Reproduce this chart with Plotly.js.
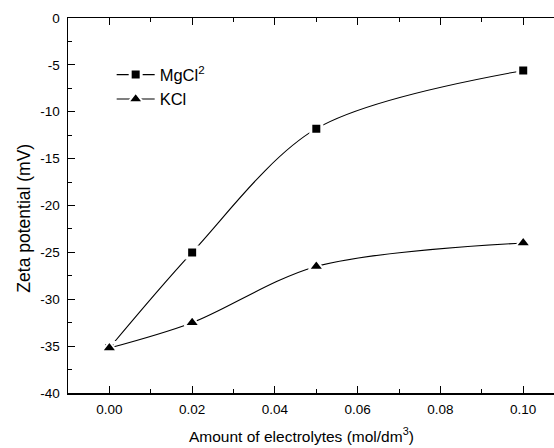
<!DOCTYPE html>
<html>
<head>
<meta charset="utf-8">
<script src="https://cdn.plot.ly/plotly-3.0.1.min.js"></script>
<style>
html, body { margin: 0; padding: 0; overflow: hidden; background: #fff; }
#chart { width: 570px; height: 448px; }
</style>
</head>
<body>
<div id="chart"></div>
<script>
// Data
const concentration = [0.00, 0.02, 0.05, 0.10];
const mgcl2 = [-35.2, -25.0, -11.8, -5.6];
const kcl = [-35.2, -32.5, -26.5, -24.0];
const seriesNames = ['MgCl<sup>2</sup>', 'KCl'];
const xTickVals = [0, 0.02, 0.04, 0.06, 0.08, 0.10];
const yTickVals = [0, -5, -10, -15, -20, -25, -30, -35, -40];
const yTickText = ['0', '-5', '-10', '-15', '-20', '-25', '-30', '-35', '-40'];
const xTitle = 'Amount of electrolytes (mol/dm<sup>3</sup>)';
const yTitle = 'Zeta potential (mV)';

const font = 'Liberation Sans, Arial, sans-serif';

const traces = [
  {
    x: concentration, y: mgcl2, name: seriesNames[0],
    type: 'scatter', mode: 'lines+markers',
    line: { color: '#000', width: 1.1, shape: 'spline', smoothing: 0.9 },
    marker: { symbol: 'square', size: 11, color: '#000', line: { color: '#fff', width: 3 } }
  },
  {
    x: concentration, y: kcl, name: seriesNames[1],
    type: 'scatter', mode: 'lines+markers',
    line: { color: '#000', width: 1.1, shape: 'spline', smoothing: 0.9 },
    marker: { symbol: 'triangle-up', size: 13, color: '#000', line: { color: '#fff', width: 2 } }
  }
];

const layout = {
  width: 570, height: 448,
  margin: { l: 68, r: 0, t: 18, b: 55 },
  paper_bgcolor: '#fff', plot_bgcolor: '#fff',
  font: { family: font, size: 13.5, color: '#000' },
  showlegend: true,
  legend: {
    x: 0.087, y: 0.895, xanchor: 'left', yanchor: 'top',
    bgcolor: 'rgba(0,0,0,0)', borderwidth: 0,
    font: { family: font, size: 16.5, color: '#000' },
    itemwidth: 38,
    tracegroupgap: 0
  },
  xaxis: {
    range: [-0.01, 0.1113],
    tickvals: xTickVals,
    tickformat: '.2f',
    ticks: 'inside', ticklen: 7, tickwidth: 1, tickcolor: '#000',
    minor: { dtick: 0.01, tick0: 0, ticks: 'inside', ticklen: 4, tickcolor: '#000' },
    showline: true, linecolor: '#000', linewidth: 1.5, mirror: 'allticks',
    showgrid: false, zeroline: false,
    ticklabelstandoff: 3,
    tickfont: { family: font, size: 13.5, color: '#000' }
  },
  yaxis: {
    range: [-40, 0],
    tickvals: yTickVals, ticktext: yTickText,
    ticks: 'inside', ticklen: 7, tickwidth: 1, tickcolor: '#000',
    minor: { dtick: 2.5, tick0: 0, ticks: 'inside', ticklen: 4, tickcolor: '#000' },
    showline: true, linecolor: '#000', linewidth: 1.5, mirror: 'allticks',
    showgrid: false, zeroline: false,
    ticklabelstandoff: 4,
    tickfont: { family: font, size: 13.5, color: '#000' }
  },
  annotations: [
    {
      text: xTitle, xref: 'paper', yref: 'paper',
      x: 0.466, y: -0.111, xanchor: 'center', yanchor: 'middle',
      showarrow: false, font: { family: font, size: 15.5, color: '#000' }
    },
    {
      text: yTitle, xref: 'paper', yref: 'paper', textangle: -90,
      x: -0.0876, y: 0.465, xanchor: 'center', yanchor: 'middle',
      showarrow: false, font: { family: font, size: 17.5, color: '#000' }
    }
  ]
};

Plotly.newPlot('chart', traces, layout, { displayModeBar: false, staticPlot: true });
</script>
</body>
</html>
